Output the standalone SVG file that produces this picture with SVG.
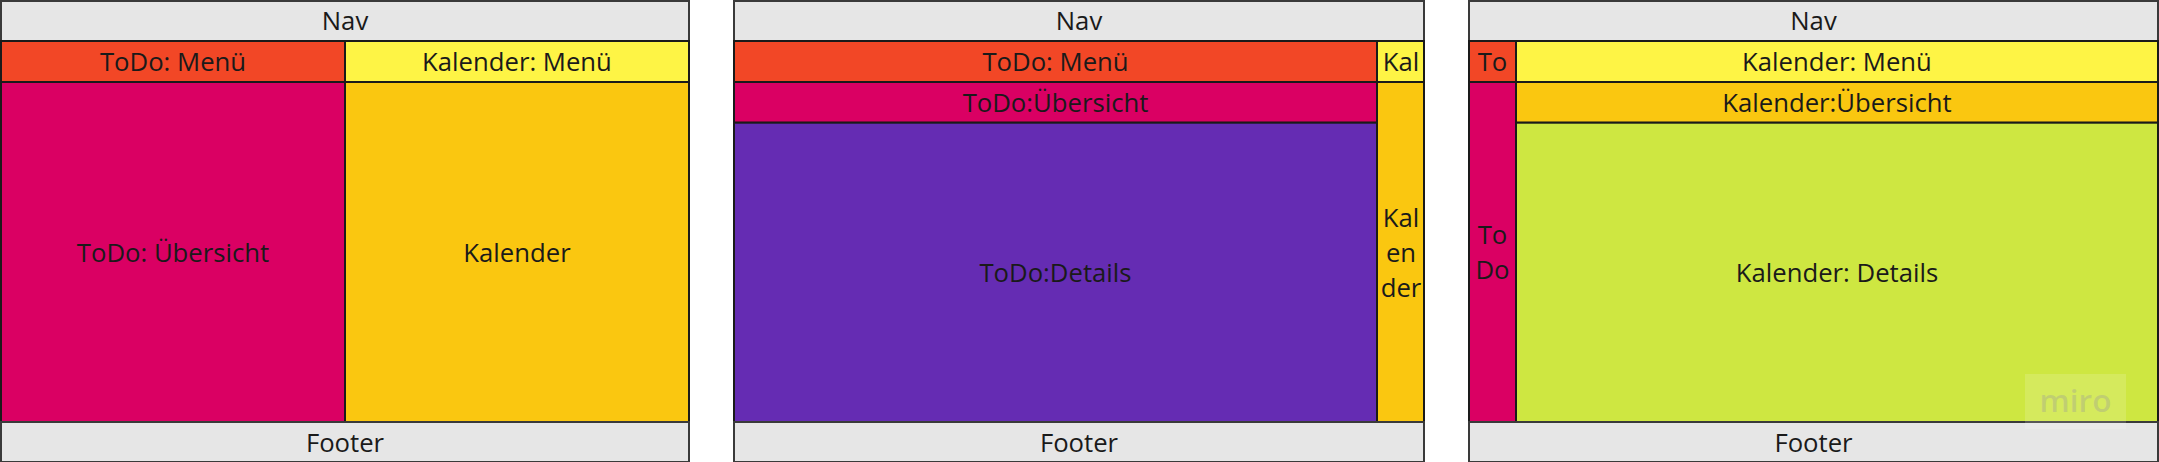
<svg xmlns="http://www.w3.org/2000/svg" width="2159" height="462" viewBox="0 0 2159 462">
<style>
rect.b{stroke:#1a1a1a;stroke-width:2}
rect.g{fill:#e6e6e6;stroke:#3a3a3a;stroke-width:2}
.nav{fill:#e6e6e6}.red{fill:#f24726}.yel{fill:#fef445}.mag{fill:#da0063}.gold{fill:#fac710}.pur{fill:#652cb3}.lime{fill:#cee741}
text{font-family:"Open Sans","DejaVu Sans",sans-serif;font-size:25.7px;fill:#1a1a1a;text-anchor:middle}
</style>
<rect width="2159" height="462" fill="#ffffff"/>
<g id="panel1">
<g id="p1-nav"><rect class="g" x="1" y="1" width="688" height="40"/><text x="345" y="30">Nav</text></g>
<g id="p1-todo-menu"><rect class="b red" x="1" y="41" width="344" height="41"/><text x="173" y="71">ToDo: Menü</text></g>
<g id="p1-kal-menu"><rect class="b yel" x="345" y="41" width="344" height="41"/><text x="517" y="71">Kalender: Menü</text></g>
<g id="p1-todo"><rect class="b mag" x="1" y="82" width="344" height="340"/><text x="173" y="261.5">ToDo: Übersicht</text></g>
<g id="p1-kal"><rect class="b gold" x="345" y="82" width="344" height="340"/><text x="517" y="261.5">Kalender</text></g>
<g id="p1-footer"><rect class="g" x="1" y="422" width="688" height="40"/><text x="345" y="451.5">Footer</text></g>
</g>
<g id="panel2">
<g id="p2-nav"><rect class="g" x="734" y="1" width="690" height="40"/><text x="1079" y="30">Nav</text></g>
<g id="p2-todo-menu"><rect class="b red" x="734" y="41" width="643" height="41"/><text x="1055.5" y="71">ToDo: Menü</text></g>
<g id="p2-kal-menu"><rect class="b yel" x="1377" y="41" width="47" height="41"/><text x="1401" y="71">Kal</text></g>
<g id="p2-todo-overview"><rect class="b mag" x="734" y="82" width="643" height="40.7"/><text x="1055.5" y="111.5">ToDo:Übersicht</text></g>
<g id="p2-todo-details"><rect class="b pur" x="734" y="122.7" width="643" height="299.3"/><text x="1055.5" y="282">ToDo:Details</text></g>
<g id="p2-kal"><rect class="b gold" x="1377" y="82" width="47" height="340"/><text x="1401" y="227">Kal</text><text x="1401" y="262">en</text><text x="1401" y="297">der</text></g>
<g id="p2-footer"><rect class="g" x="734" y="422" width="690" height="40"/><text x="1079" y="451.5">Footer</text></g>
</g>
<g id="panel3">
<g id="p3-nav"><rect class="g" x="1469" y="1" width="689" height="40"/><text x="1813.5" y="30">Nav</text></g>
<g id="p3-todo-menu"><rect class="b red" x="1469" y="41" width="47" height="41"/><text x="1492.5" y="71">To</text></g>
<g id="p3-kal-menu"><rect class="b yel" x="1516" y="41" width="642" height="41"/><text x="1837" y="71">Kalender: Menü</text></g>
<g id="p3-todo"><rect class="b mag" x="1469" y="82" width="47" height="340"/><text x="1492.5" y="244">To</text><text x="1492.5" y="279">Do</text></g>
<g id="p3-kal-overview"><rect class="b gold" x="1516" y="82" width="642" height="40.7"/><text x="1837" y="111.5">Kalender:Übersicht</text></g>
<g id="p3-kal-details"><rect class="b lime" x="1516" y="122.7" width="642" height="299.3"/><text x="1837" y="282">Kalender: Details</text></g>
<g id="p3-footer"><rect class="g" x="1469" y="422" width="689" height="40"/><text x="1813.5" y="451.5">Footer</text></g>
</g>
<g id="connectors"/>
<g id="watermark">
<rect x="2025" y="374" width="101" height="55" fill="#ffffff" fill-opacity="0.15"/>
<text x="2075.5" y="412" style="font-size:30px;font-weight:600;fill:#9a9a9a;fill-opacity:0.35" textLength="72" lengthAdjust="spacingAndGlyphs">miro</text>
</g>
</svg>
